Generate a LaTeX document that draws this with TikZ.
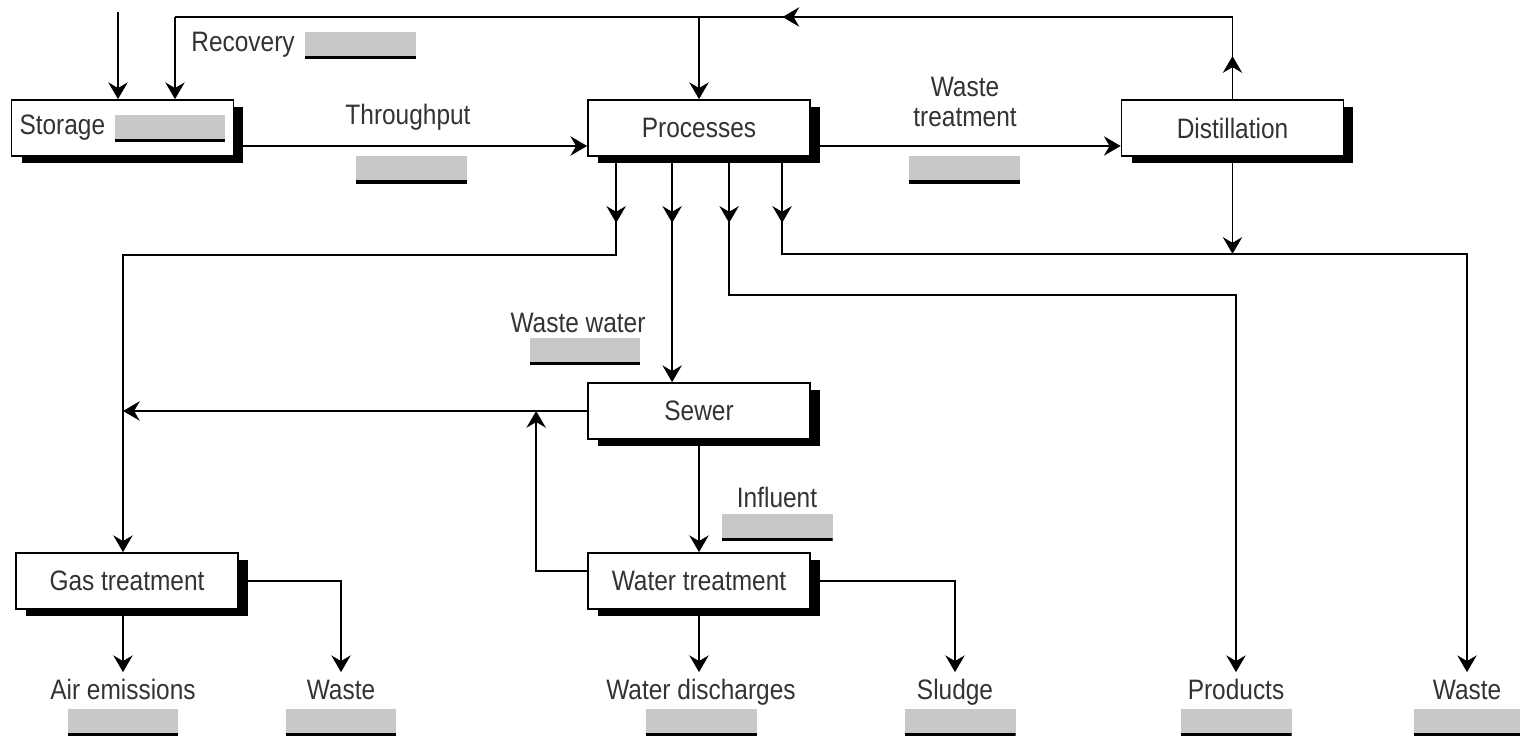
\documentclass[tikz,border=0pt]{standalone}
\usepackage{fontspec}
\setmainfont{Liberation Sans}[FakeStretch=0.87]
\usetikzlibrary{arrows.meta,shadows}
\definecolor{ink}{HTML}{333333}
\definecolor{blankgray}{HTML}{C8C8C8}
\tikzset{
  stage/.style={draw=black, fill=white, line width=1pt, minimum width=4.44cm, minimum height=1.12cm,
    font=\fontsize{16}{17}\selectfont, text=ink,
    drop shadow={shadow xshift=.2cm, shadow yshift=-.14cm, fill=black, opacity=1}},
  tag/.style={font=\fontsize{16}{17}\selectfont, text=ink, align=center, inner sep=2pt},
  outlet/.style={tag, text height=.4cm, text depth=.1cm, inner sep=4pt},
  slot/.style={fill=blankgray, minimum width=2.22cm, minimum height=.54cm, inner sep=0pt,
    path picture={\draw[line width=3.4pt] (path picture bounding box.south west) -- (path picture bounding box.south east);}},
  wire/.style={draw=black, line width=1.1pt},
  flow/.style={wire, -{Stealth[length=9.5pt, width=11pt, inset=3.2pt]}}
}
\begin{document}
\begin{tikzpicture}[x=.02cm,y=.02cm]
  \useasboundingbox (0,0) rectangle (1520,736);

  % units
  \node[stage, align=left, text width=4.12cm, inner xsep=.16cm] (storage) at (122.5,608) {Storage};
  \node[slot] (storeslot) at (170,607.5) {};
  \node[stage] (proc) at (699,608) {Processes};
  \node[stage] (dist) at (1232.5,608) {Distillation};
  \node[stage] (sewer) at (699,325) {Sewer};
  \node[stage] (wt) at (699,155) {Water treatment};
  \node[stage] (gas) at (127,155) {Gas treatment};

  % stream labels
  \node[tag] (recovery) at (243,691) {Recovery};
  \node[slot] (recslot) at (360.5,690.5) {};
  \node[tag] (through) at (408,619) {Throughput};
  \node[slot] (thruslot) at (411.5,566) {};
  \node[tag] (wtreat) at (965,634) {Waste\\treatment};
  \node[slot] (wtslot) at (964.5,566) {};
  \node[tag] (wwater) at (578,413) {Waste water};
  \node[slot] (wwslot) at (585,384.5) {};
  \node[tag] (influent) at (777,239) {Influent};
  \node[slot] (infslot) at (777,208.5) {};

  % outputs
  \node[outlet] (air) at (123,44) {Air emissions};
  \node[slot] (airslot) at (123,14) {};
  \node[outlet] (gaswaste) at (341,44) {Waste};
  \node[slot] (gwslot) at (341,14) {};
  \node[outlet] (discharge) at (701,44) {Water discharges};
  \node[slot] (disslot) at (701.5,14) {};
  \node[outlet] (sludge) at (955,44) {Sludge};
  \node[slot] (sludslot) at (960,14) {};
  \node[outlet] (products) at (1236,44) {Products};
  \node[slot] (prodslot) at (1236,14) {};
  \node[outlet] (waste) at (1467,44) {Waste};
  \node[slot] (wasteslot) at (1469.5,14) {};

  % feed and recovery loop
  \coordinate (feed) at (118,724);
  \coordinate (rec1) at (1232.5,719);
  \coordinate (rec2) at (175,719);
  \draw[flow] (feed) -- (feed |- storage.north);
  \draw[wire] (dist.north) -- (rec1) -- (rec2);
  \draw[flow] (dist.north) -- ++(0,43);
  \draw[flow] (rec1) -- ++(-450,0);
  \draw[flow] (rec2) -- (rec2 |- storage.north);
  \draw[flow] (proc.north |- rec1) -- (proc.north);

  % main stream
  \draw[flow] ([yshift=-.36cm]storage.east) -- ([yshift=-.36cm]proc.west);
  \draw[flow] ([yshift=-.36cm]proc.east) -- ([yshift=-.36cm]dist.west);

  % process outlets
  \coordinate (legA) at ([xshift=.58cm]proc.south west);
  \coordinate (legB) at ([xshift=1.70cm]proc.south west);
  \coordinate (legC) at ([xshift=2.84cm]proc.south west);
  \coordinate (legD) at ([xshift=3.90cm]proc.south west);
  \coordinate (gasin) at ([xshift=-.08cm]gas.north);
  \draw[flow] (legA) -- ++(0,-66);
  \draw[flow] (legB) -- ++(0,-66);
  \draw[flow] (legC) -- ++(0,-66);
  \draw[flow] (legD) -- ++(0,-66);
  \draw[flow] (legA) -- ++(0,-98) -| (gasin);
  \draw[flow] (legB) -- (legB |- sewer.north);
  \draw[flow] (legC) -- ++(0,-138) -| (products.north);
  \draw[flow] (legD) -- ++(0,-97) -| (waste.north);
  \draw[flow] (dist.south) -- ++(0,-97);

  % sewer and water treatment
  \draw[flow] (sewer.west) -- (sewer.west -| gasin);
  \draw[flow] ([yshift=.2cm]wt.west) -- ++(-51,0) -- ++(0,160);
  \draw[flow] (sewer.south) -- (wt.north);
  \draw[flow] (wt.south) -- (wt.south |- discharge.north);
  \draw[flow] (wt.east) -| (sludge.north);

  % gas treatment
  \draw[flow] (air.north |- gas.south) -- (air.north);
  \draw[flow] (gas.east) -| (gaswaste.north);
\end{tikzpicture}
\end{document}
